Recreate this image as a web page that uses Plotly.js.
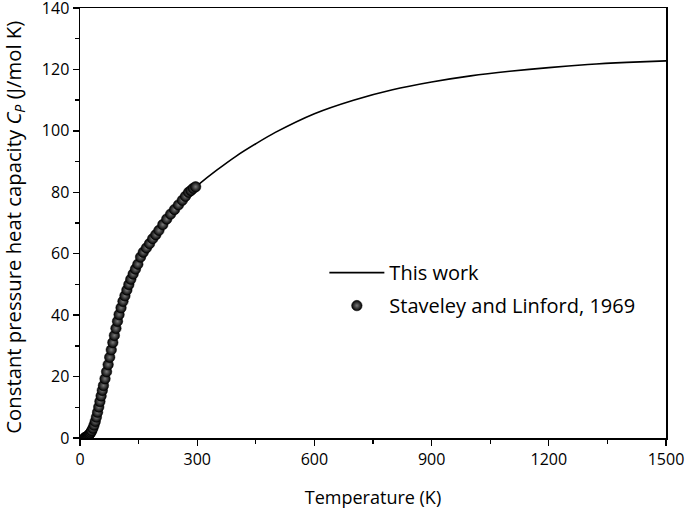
<!DOCTYPE html>
<html>
<head>
<meta charset="utf-8">
<script src="https://cdn.plot.ly/plotly-3.0.1.min.js"></script>
<style>html,body{margin:0;padding:0;background:#fff;}#chart{width:685px;height:513px;}</style>
</head>
<body>
<div id="chart"></div>
<script>
// Model curve ("This work")
const curveT  = [0, 10, 20, 30, 40, 50, 60, 70, 80, 90, 100, 110, 120, 130, 140, 150, 160, 175, 200, 225, 250, 275, 300, 350, 400, 450, 500, 600, 700, 800, 900, 1000, 1100, 1200, 1300, 1400, 1500];
const curveCp = [0, 0.05, 0.6, 2.4, 5.9, 11.3, 17.1, 22.8, 28.7, 34.6, 40.2, 44.5, 48.2, 51.7, 54.5, 57.2, 59.9, 62.8, 67.2, 71.8, 75.6, 79.5, 82.2, 87.2, 91.8, 95.8, 99.5, 105.6, 110.0, 113.4, 115.9, 117.9, 119.4, 120.6, 121.6, 122.3, 122.8];

// Experimental data (Staveley and Linford, 1969)
const expT  = [12, 14, 16, 18, 20, 22, 24, 26, 28, 30, 33, 36, 39, 42, 45, 48, 51, 54, 57, 60, 64, 68, 72, 76, 80, 84, 88, 92, 96, 100, 105, 110, 115, 120, 125, 130, 136, 142, 148, 155, 162, 170, 178, 186, 194, 202, 212, 222, 232, 242, 252, 262, 270, 278, 284, 290, 296];
const expCp = [0.1, 0.2, 0.3, 0.4, 0.6, 0.9, 1.2, 1.5, 1.9, 2.4, 3.2, 4.2, 5.4, 6.8, 8.4, 10.1, 11.9, 13.7, 15.5, 17.1, 19.3, 21.6, 23.9, 26.3, 28.7, 31.1, 33.4, 35.7, 38.0, 40.2, 42.4, 44.5, 46.3, 48.2, 50.0, 51.7, 53.4, 55.0, 56.6, 58.9, 60.5, 61.9, 63.3, 64.9, 66.2, 67.6, 69.5, 71.3, 72.9, 74.4, 75.9, 77.4, 78.7, 80.0, 80.6, 81.3, 81.8];

const xTicks = [0, 300, 600, 900, 1200, 1500];
const yTicks = [0, 20, 40, 60, 80, 100, 120, 140];
const yTitle = 'Constant pressure heat capacity <i>C</i><sub><i>P</i></sub> (J/mol K)';

const FONT = '"Open Sans", "Liberation Sans", sans-serif';

const traces = [
  {
    x: curveT, y: curveCp, type: 'scatter', mode: 'lines', name: 'This work', legendgroup: 'a',
    line: {color: '#000', width: 1.6, shape: 'spline', smoothing: 0.8}
  },
  {
    x: expT, y: expCp, type: 'scatter', mode: 'markers', name: 'Staveley and Linford, 1969', legendgroup: 'b',
    marker: {size: 10.5, color: '#000', line: {color: '#000', width: 0.5},
             gradient: {type: 'radial', color: '#7a7a7a'}}
  }
];

const axisCommon = {
  showgrid: false, zeroline: false, showline: true, linecolor: '#000', linewidth: 1.5,
  mirror: true, ticks: 'outside', ticklen: 6, tickwidth: 1.3, tickcolor: '#000',
  ticklabeloverflow: 'allow',
  tickfont: {family: FONT, size: 16, color: '#000'},
  minor: {ticks: 'outside', ticklen: 4, tickwidth: 1.3, tickcolor: '#000'}
};

const layout = {
  width: 685, height: 513,
  margin: {l: 80, r: 19, t: 8, b: 75},
  paper_bgcolor: '#fff', plot_bgcolor: '#fff',
  showlegend: true,
  legend: {x: 0.417, y: 0.43, xanchor: 'left', yanchor: 'top', bgcolor: 'rgba(0,0,0,0)',
           font: {family: FONT, size: 20, color: '#000'}, traceorder: 'grouped',
           tracegroupgap: 4, itemwidth: 55},
  xaxis: Object.assign({}, axisCommon, {
    range: [0, 1500], tickvals: xTicks, ticktext: xTicks.map(String),
    minor: Object.assign({}, axisCommon.minor, {dtick: 150, tick0: 0}),
    title: {text: 'Temperature (K)', font: {family: FONT, size: 18, color: '#000'}, standoff: 22}
  }),
  yaxis: Object.assign({}, axisCommon, {
    range: [0, 140], tickvals: yTicks, ticktext: yTicks.map(String),
    minor: Object.assign({}, axisCommon.minor, {dtick: 10, tick0: 0})
  }),
  annotations: [{
    text: yTitle, xref: 'paper', yref: 'paper', x: -0.112, y: 0.49,
    xanchor: 'center', yanchor: 'middle', textangle: -90, showarrow: false,
    font: {family: FONT, size: 20.3, color: '#000'}
  }]
};

Plotly.newPlot('chart', traces, layout, {displayModeBar: false, staticPlot: true});
</script>
</body>
</html>
